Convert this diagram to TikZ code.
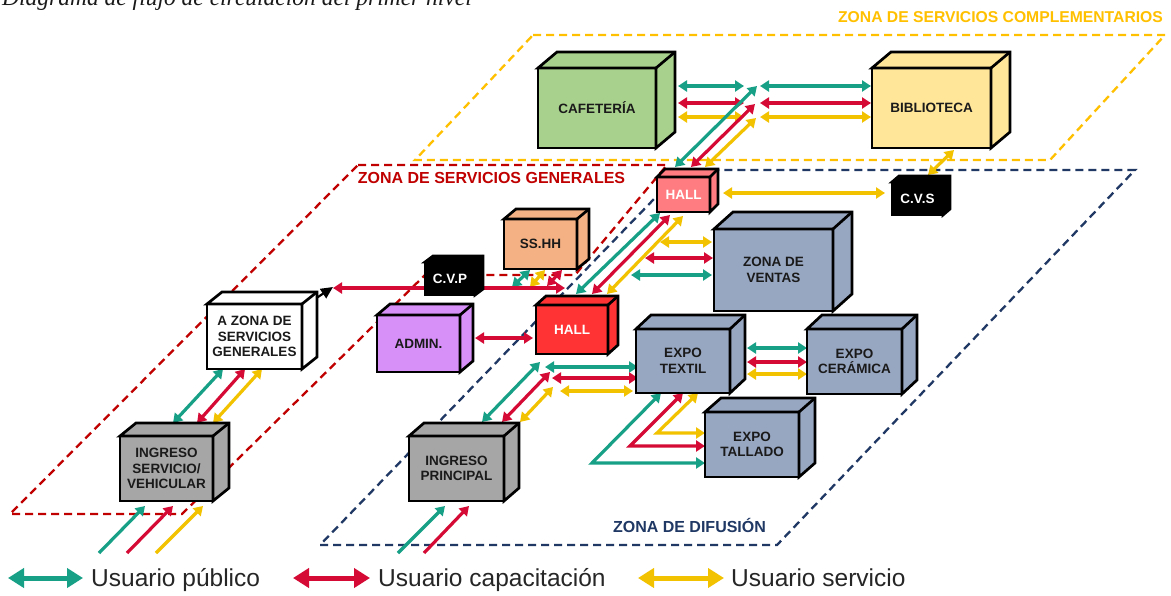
\documentclass[tikz,border=0pt]{standalone}
\usepackage{fontspec}
\setmainfont{Liberation Sans}
\newfontfamily\serifit{Liberation Serif}
\usetikzlibrary{arrows.meta}
\definecolor{cteal}{HTML}{17A086}
\definecolor{cred}{HTML}{D50B35}
\definecolor{cyel}{HTML}{F2C200}
\definecolor{zyel}{HTML}{FFC000}
\definecolor{zred}{HTML}{C00000}
\definecolor{zblue}{HTML}{1F3864}
\definecolor{fgreen}{HTML}{A9D18E}
\definecolor{fbib}{HTML}{FFE699}
\definecolor{fpink}{HTML}{FF7C80}
\definecolor{fhall}{HTML}{FF3333}
\definecolor{fadmin}{HTML}{D790F8}
\definecolor{fsshh}{HTML}{F4B183}
\definecolor{fgray}{HTML}{A6A6A6}
\definecolor{fsteel}{HTML}{97A6C1}
\definecolor{tdark}{HTML}{1A1A1A}
\tikzset{
  boxfront/.style={draw=black, line width=2.7pt, outer sep=0pt, inner sep=1pt, align=center,
    font=\bfseries\fontsize{13.5pt}{15.5pt}\selectfont, text=tdark},
  boxedge/.style={draw=black, line width=2.7pt},
  twoway/.style={line width=3.2pt, {Triangle[length=9pt,width=11pt]}-{Triangle[length=9pt,width=11pt]}},
  oneway/.style={line width=3.2pt, -{Triangle[length=9pt,width=11pt]}},
  upub/.style={draw=cteal},
  ucap/.style={draw=cred},
  user/.style={draw=cyel},
  zonedash/.style={line width=2.3pt, dash pattern=on 8pt off 5pt},
  zlabel/.style={font=\bfseries\fontsize{16pt}{18pt}\selectfont, inner sep=0pt, anchor=base},
  legarrow/.style={line width=5pt, {Triangle[length=16pt,width=19pt]}-{Triangle[length=16pt,width=19pt]}},
  legtext/.style={font=\fontsize{24.5pt}{27pt}\selectfont, text=black!85, inner sep=0pt, anchor=base west}
}
\newcommand\cuboidbox[9]{%
  \node[boxfront,#8,minimum width=#4pt,minimum height=#5pt] (#1) at (#2,#3) {#9};
  \draw[boxedge,#8] (#1.north west) -- ++(#6,-#7) -- ++(#4,0) -- ++(0,#5) -- ++(-#6,#7) -- (#1.north east) -- cycle;
  \draw[boxedge] (#1.north east) -- ++(#6,-#7);
}
\begin{document}
\begin{tikzpicture}[x=1pt,y=-1pt]
\fill[white] (0,0) rectangle (1171,595);
\useasboundingbox (0,0) rectangle (1171,595);

% title (cut at top, as in the reference)
\node[anchor=base west, inner sep=0pt, text=tdark, font=\serifit\itshape\fontsize{23.5pt}{26pt}\selectfont] (title) at (2,5) {Diagrama de flujo de circulación del primer nivel};

% zones
\coordinate (y1) at (533,35); \coordinate (y2) at (1165,35); \coordinate (y3) at (1050,160); \coordinate (y4) at (415,160);
\draw[zonedash, draw=zyel] (y1) -- (y2) -- (y3) -- (y4) -- cycle;
\coordinate (r1) at (358,165); \coordinate (r2) at (667,165); \coordinate (r3) at (575,275); \coordinate (r4) at (425,275);
\coordinate (r5) at (182,514); \coordinate (r6) at (10,514);
\draw[zonedash, draw=zred] (r1) -- (r2) -- (r3) -- (r4) -- (r5) -- (r6) -- cycle;
\coordinate (b1) at (320,545); \coordinate (b2) at (777,545); \coordinate (b3) at (1135,170); \coordinate (b4) at (682,170);
\draw[zonedash, draw=zblue] (b1) -- (b2) -- (b3) -- (b4) -- cycle;

\node[zlabel, text=zyel, font=\bfseries\fontsize{15.7pt}{18pt}\selectfont] (lblY) at (1000.5,22.5) {ZONA DE SERVICIOS COMPLEMENTARIOS};
\node[zlabel, text=zred] (lblR) at (491.5,183) {ZONA DE SERVICIOS GENERALES};
\node[zlabel, text=zblue] (lblB) at (689.5,532) {ZONA DE DIFUSIÓN};

% ---------- connector end points ----------
\coordinate (cT1) at (678,86);  \coordinate (jT1) at (744,86);  \coordinate (jT2) at (760,86);  \coordinate (bT) at (871,86);
\coordinate (cR1) at (678,103); \coordinate (jR1) at (744,103); \coordinate (jR2) at (760,103); \coordinate (bR) at (871,103);
\coordinate (cY1) at (678,117); \coordinate (jY1) at (744,117); \coordinate (jY2) at (760,117); \coordinate (bY) at (871,117);
\coordinate (hT) at (675,167); \coordinate (dT) at (757,86);
\coordinate (hR) at (691,167); \coordinate (dR) at (755,104);
\coordinate (hY) at (705,167); \coordinate (dY) at (756,118);
\coordinate (bibS) at (954,150); \coordinate (cvsN) at (928,175);
\coordinate (hallE) at (723,193); \coordinate (cvsW) at (885,193);
\coordinate (haT) at (660,213); \coordinate (hbT) at (576,294);
\coordinate (haR) at (670,215); \coordinate (hbR) at (592,294);
\coordinate (haY) at (683,216); \coordinate (hbY) at (607,294);
\coordinate (vY0) at (660,242); \coordinate (vY1) at (712,242);
\coordinate (vR0) at (645,258); \coordinate (vR1) at (713,258);
\coordinate (vT0) at (631,275); \coordinate (vT1) at (712,275);
\coordinate (sT0) at (512,287); \coordinate (sT1) at (530,270);
\coordinate (sY0) at (530,287); \coordinate (sY1) at (545,270);
\coordinate (sR0) at (547,286); \coordinate (sR1) at (562,270);
\coordinate (lr0) at (333,288); \coordinate (lr1) at (565,288);
\coordinate (bk0) at (312,301); \coordinate (bk1) at (333,287);
\coordinate (ad0) at (475,338); \coordinate (ad1) at (533,338);
\coordinate (xT0) at (545,367); \coordinate (xT1) at (638,367);
\coordinate (xR0) at (552,378); \coordinate (xR1) at (638,378);
\coordinate (xY0) at (560,391); \coordinate (xY1) at (633,391);
\coordinate (pT0) at (482,422); \coordinate (pT1) at (540,362);
\coordinate (pR0) at (502,422); \coordinate (pR1) at (550,372);
\coordinate (pY0) at (520,422); \coordinate (pY1) at (553,387);
\coordinate (ePT0) at (398,553); \coordinate (ePT1) at (445,506);
\coordinate (ePR0) at (424,553); \coordinate (ePR1) at (469,506);
\coordinate (eST0) at (99,553);  \coordinate (eST1) at (145,506);
\coordinate (eSR0) at (127,553); \coordinate (eSR1) at (173,506);
\coordinate (eSY0) at (156,553); \coordinate (eSY1) at (203,506);
\coordinate (aT0) at (173,423); \coordinate (aT1) at (223,369);
\coordinate (aR0) at (197,423); \coordinate (aR1) at (245,369);
\coordinate (aY0) at (213,423); \coordinate (aY1) at (262,369);
\coordinate (kT0) at (747,348); \coordinate (kT1) at (807,348);
\coordinate (kR0) at (747,362); \coordinate (kR1) at (807,362);
\coordinate (kY0) at (747,374); \coordinate (kY1) at (807,374);
\coordinate (gT0) at (661,393); \coordinate (gTc) at (592,463); \coordinate (gT1) at (705,463);
\coordinate (gR0) at (683,393); \coordinate (gRc) at (630,446); \coordinate (gR1) at (705,446);
\coordinate (gY0) at (698,393); \coordinate (gYc) at (657,433); \coordinate (gY1) at (705,433);

% ---------- connectors ----------
\draw[twoway,upub] (cT1) -- (jT1); \draw[twoway,upub] (jT2) -- (bT);
\draw[twoway,ucap] (cR1) -- (jR1); \draw[twoway,ucap] (jR2) -- (bR);
\draw[twoway,user] (cY1) -- (jY1); \draw[twoway,user] (jY2) -- (bY);
\draw[twoway,upub] (hT) -- (dT);
\draw[twoway,ucap] (hR) -- (dR);
\draw[twoway,user] (hY) -- (dY);
\draw[twoway,user] (bibS) -- (cvsN);
\draw[twoway,user] (hallE) -- (cvsW);
\draw[twoway,upub] (haT) -- (hbT);
\draw[twoway,ucap] (haR) -- (hbR);
\draw[twoway,user] (haY) -- (hbY);
\draw[twoway,user] (vY0) -- (vY1);
\draw[twoway,ucap] (vR0) -- (vR1);
\draw[twoway,upub] (vT0) -- (vT1);
\draw[twoway,upub] (sT0) -- (sT1);
\draw[twoway,user] (sY0) -- (sY1);
\draw[twoway,ucap] (sR0) -- (sR1);
\draw[twoway,ucap] (lr0) -- (lr1);
\draw[line width=2.2pt, -{Triangle[length=12pt,width=11pt]}] (bk0) -- (bk1);
\draw[twoway,ucap] (ad0) -- (ad1);
\draw[twoway,upub] (xT0) -- (xT1);
\draw[twoway,ucap] (xR0) -- (xR1);
\draw[twoway,user] (xY0) -- (xY1);
\draw[twoway,upub] (pT0) -- (pT1);
\draw[twoway,ucap] (pR0) -- (pR1);
\draw[twoway,user] (pY0) -- (pY1);
\draw[oneway,upub] (ePT0) -- (ePT1);
\draw[oneway,ucap] (ePR0) -- (ePR1);
\draw[oneway,upub] (eST0) -- (eST1);
\draw[oneway,ucap] (eSR0) -- (eSR1);
\draw[oneway,user] (eSY0) -- (eSY1);
\draw[twoway,upub] (aT0) -- (aT1);
\draw[twoway,ucap] (aR0) -- (aR1);
\draw[twoway,user] (aY0) -- (aY1);
\draw[twoway,upub] (kT0) -- (kT1);
\draw[twoway,ucap] (kR0) -- (kR1);
\draw[twoway,user] (kY0) -- (kY1);
\draw[twoway,upub] (gT0) -- (gTc) -- (gT1);
\draw[twoway,ucap] (gR0) -- (gRc) -- (gR1);
\draw[twoway,user] (gY0) -- (gYc) -- (gY1);

% ---------- boxes ----------
\cuboidbox{caf}{597}{108}{118}{80}{19}{16}{fill=fgreen}{CAFETERÍA}
\cuboidbox{bib}{931.5}{108}{119}{80}{19}{16}{fill=fbib}{BIBLIOTECA}
\cuboidbox{hallA}{683.5}{194.5}{53}{35}{8}{8}{fill=fpink,text=white}{HALL}
\cuboidbox{cvs}{917.5}{198.5}{51}{33}{7}{6}{fill=black,text=white}{C.V.S}
\cuboidbox{ventas}{773.5}{270}{119}{82}{19}{17}{fill=fsteel}{ZONA DE\\VENTAS}
\cuboidbox{textil}{683}{361}{94}{64}{15}{14}{fill=fsteel}{EXPO\\TEXTIL}
\cuboidbox{ceram}{854.5}{361.5}{95}{65}{15}{14}{fill=fsteel}{EXPO\\CERÁMICA}
\cuboidbox{tallado}{752}{444.5}{94}{65}{16}{14}{fill=fsteel}{EXPO\\TALLADO}
\cuboidbox{hallB}{572}{329.5}{72}{49}{10}{9}{fill=fhall,text=white}{HALL}
\cuboidbox{admin}{418.5}{343.5}{83}{57}{13}{11}{fill=fadmin}{ADMIN.}
\cuboidbox{sshh}{540.5}{244}{73}{50}{12}{10}{fill=fsshh}{SS.HH}
\cuboidbox{cvp}{450}{278.5}{50}{33}{8}{6}{fill=black,text=white}{C.V.P}
\cuboidbox{azona}{254.5}{336.5}{95}{65}{15}{12}{fill=white}{A ZONA DE\\SERVICIOS\\GENERALES}
\cuboidbox{ingS}{166.5}{468.5}{93}{65}{16}{13}{fill=fgray}{INGRESO\\SERVICIO/\\VEHICULAR}
\cuboidbox{ingP}{456.5}{468.5}{95}{65}{15}{13}{fill=fgray}{INGRESO\\PRINCIPAL}

% ---------- legend ----------
\coordinate (lgT0) at (8,578);   \coordinate (lgT1) at (83,578);
\coordinate (lgR0) at (293,578); \coordinate (lgR1) at (370,578);
\coordinate (lgY0) at (638,578); \coordinate (lgY1) at (724,578);
\draw[legarrow,upub] (lgT0) -- (lgT1);
\draw[legarrow,ucap] (lgR0) -- (lgR1);
\draw[legarrow,user] (lgY0) -- (lgY1);
\node[legtext] (lgTt) at (91,586) {Usuario público};
\node[legtext] (lgRt) at (378,586) {Usuario capacitación};
\node[legtext] (lgYt) at (731,586) {Usuario servicio};
\end{tikzpicture}
\end{document}
